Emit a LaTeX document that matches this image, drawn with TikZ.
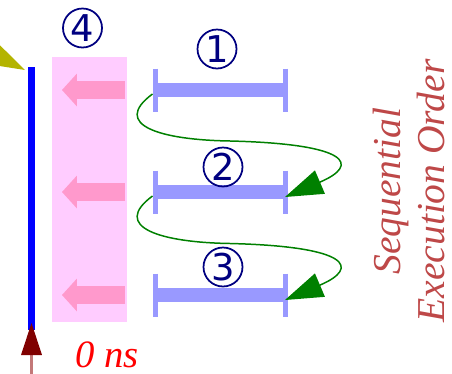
\documentclass[tikz,border=0pt]{standalone}
\usepackage{fontspec}
\setmainfont{Liberation Serif}
\newfontfamily\circfont{DejaVu Sans}
\usetikzlibrary{arrows.meta,calc}
\definecolor{olivetip}{RGB}{180,180,0}
\definecolor{darkredtip}{RGB}{128,0,0}
\definecolor{rosyshaft}{RGB}{195,120,120}
\definecolor{pinkbg}{RGB}{255,204,255}
\definecolor{pinkarrow}{RGB}{255,153,204}
\definecolor{barblue}{RGB}{153,153,255}
\definecolor{numnavy}{RGB}{0,0,128}
\definecolor{flowgreen}{RGB}{0,128,0}
\definecolor{ordertext}{RGB}{190,72,72}
\begin{document}
\begin{tikzpicture}[x=0.02cm,y=-0.02cm,line join=round,
	num/.style={circle,draw=numnavy,line width=1pt,minimum size=0.78cm,inner sep=0pt,
		font=\circfont\fontsize{21}{21}\selectfont,text=numnavy},
	bar/.style={draw=barblue,line width=8pt},
	barend/.style={draw=barblue,line width=2.85pt},
	back/.style={draw=pinkarrow,line width=9.7pt,-{Triangle[length=0.3cm,width=0.66cm,line width=0pt]}},
	flow/.style={draw=flowgreen,line width=0.85pt,-{Triangle[length=0.76cm,width=0.51cm,line width=0pt]}}]
	\useasboundingbox (0,0) rectangle (452,373);
	\clip (0,0) rectangle (452,373);
	\def\xl{155.5} \def\xr{285.5}
	\coordinate (top) at (31.5,67);
	\coordinate (bot) at (31.5,330);
	\coordinate (hit) at (25,70);
	\coordinate (src) at (-80,17);
	\coordinate (start) at (31.5,400);
	\fill[pinkbg] (52,57) rectangle (127,322);
	\draw[blue,line width=4pt] (top) -- (bot);
	\draw[draw=olivetip,line width=2pt,-{Triangle[length=0.9cm,width=0.58cm,line width=0pt]}] (src) -- (hit);
	\draw[draw=rosyshaft,line width=1.2pt,-{Triangle[length=0.64cm,width=0.42cm,line width=0pt,color=darkredtip]}] (start) -- (31.5,323);
	\foreach \y/\lx/\ly/\n in {90/217/49/1,192/223/167/2,295/223/267/3}{
		\coordinate (b\n w) at (\xl,\y);
		\coordinate (b\n e) at (\xr,\y);
		\draw[back] (125,\y) -- (62,\y);
		\draw[bar] (b\n w) -- (b\n e);
		\draw[barend] ($(b\n w)+(0,-21.5)$) -- ($(b\n w)+(0,21.5)$);
		\draw[barend] ($(b\n e)+(0,-21.5)$) -- ($(b\n e)+(0,21.5)$);
		\node[num] (n\n) at (\lx,\ly) {\n};
	}
	\node[num] (n4) at (82.5,28) {4};
	\draw[flow] ($(b1w)+(-3,4)$) .. controls +(-42,31) and +(-70,-1) .. ($(b1w)!.5!(b2e)+(10,0)$)
		.. controls +(120,3) and +(75,-32) .. ($(b2e)+(-0.5,5)$);
	\draw[flow] ($(b2w)+(-3,4)$) .. controls +(-42,31) and +(-70,-1) .. ($(b2w)!.5!(b3e)+(10,0)$)
		.. controls +(120,3) and +(75,-32) .. ($(b3e)+(-0.5,5)$);
	\node[anchor=base west,inner sep=0pt,text=red,font=\itshape\fontsize{22}{22}\selectfont] (zero) at (75,367) {0 ns};
	\node[rotate=90,align=center,inner sep=0pt,text=ordertext,font=\itshape\fontsize{22.5}{24.5}\selectfont] (order) at (409,191) {Sequential\\Execution Order};
\end{tikzpicture}
\end{document}
